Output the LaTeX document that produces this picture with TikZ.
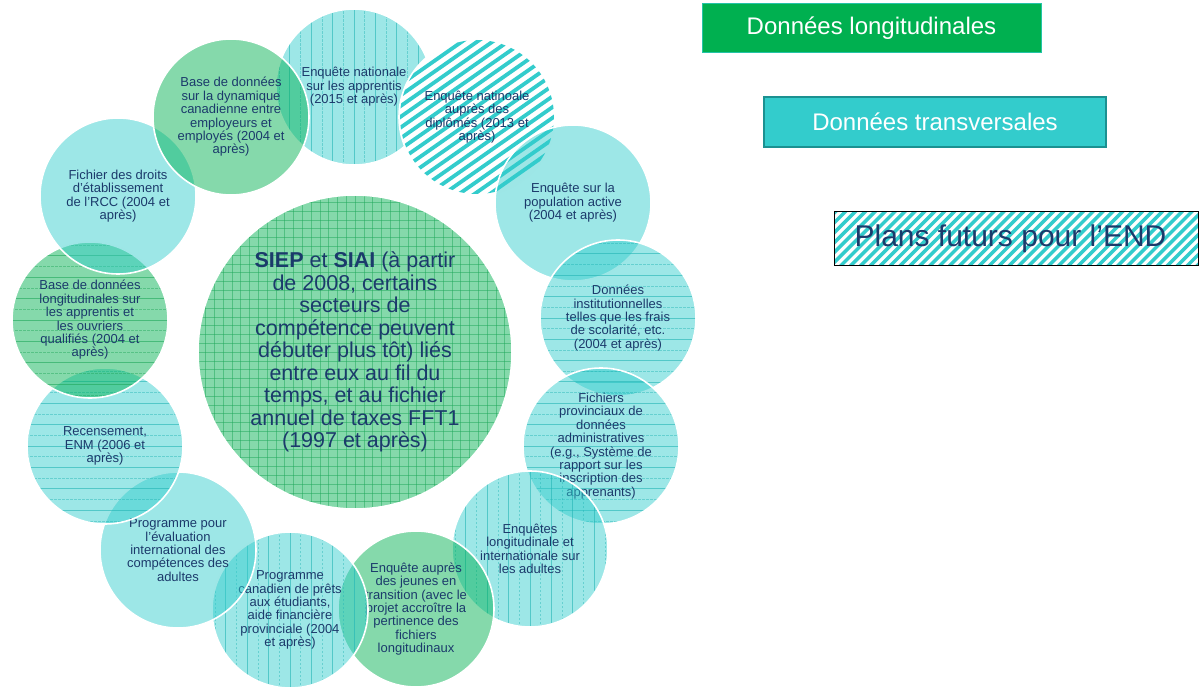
\documentclass[tikz,border=0pt]{standalone}
\usepackage{fontspec}
\setmainfont{Liberation Sans}
\definecolor{teal1}{HTML}{33CCCC}
\definecolor{tealdk}{HTML}{22B5B5}
\definecolor{grn}{HTML}{00B050}
\definecolor{grndk}{HTML}{1FA85A}
\definecolor{navy}{HTML}{1B3A6B}
% #1 node, #2 colour, #3 angle (0 = horizontal lines, 90 = vertical lines)
\newcommand\linepat[3]{%
  \begin{scope}
    \clip (#1.center) circle (77pt);
    \begin{scope}[shift={(#1.center)}, rotate=#3]
      \foreach \k in {-5,...,5}{
        \draw[#2, opacity=0.6, line width=0.7pt] (-95pt,\k*21.4pt) -- (95pt,\k*21.4pt);
        \draw[#2, opacity=0.45, line width=0.6pt, dash pattern=on 2.5pt off 1.5pt]
          (-95pt,\k*21.4pt+10.7pt) -- (95pt,\k*21.4pt+10.7pt);}
    \end{scope}
  \end{scope}}
\begin{document}
\begin{tikzpicture}[x=1pt,y=-1pt,
  circ/.style={circle, inner sep=0pt, minimum size=156pt, draw=white, line width=1.6pt,
    fill opacity=0.48},
  tc/.style={circ, fill=teal1},
  gc/.style={circ, fill=grn},
  txt/.style={inner sep=0pt, text=navy, align=center, font=\fontsize{13}{13.4}\selectfont},
  legend/.style={rectangle, inner sep=0pt, text=white, font=\fontsize{24}{26}\selectfont}
]
\useasboundingbox (0,0) rectangle (1200,687);

% central circle
\node[gc, minimum size=314pt] (center) at (355,352) {};
\begin{scope}
  \clip (center.center) circle (156pt);
  \begin{scope}[shift={(center.center)}]
    \foreach \k in {-18,...,18}{
      \draw[grndk, opacity=0.5, line width=0.6pt] (-170pt,\k*8.8pt) -- (170pt,\k*8.8pt);
      \draw[grndk, opacity=0.5, line width=0.6pt] (\k*8.8pt,-170pt) -- (\k*8.8pt,170pt);}
  \end{scope}
\end{scope}
\node[txt, font=\fontsize{21.5}{22.5}\selectfont] (centertext) at (center)
 {\textbf{SIEP} et \textbf{SIAI} (à partir\\de 2008, certains\\secteurs de\\compétence peuvent\\débuter plus tôt) liés\\entre eux au fil du\\temps, et au fichier\\annuel de taxes FFT1\\(1997 et après)};

% ring of circles (stacking order)
\node[tc] (c1) at (354,87) {};
\linepat{c1}{tealdk}{90}
\node[txt] (t1) at (c1) {Enquête nationale\\sur les apprentis\\(2015  et après)};

\node[circ, fill=white, fill opacity=1] (c2) at (477,117) {};
\begin{scope}
  \clip (c2.center) circle (77pt);
  \begin{scope}[shift={(c2.center)}, rotate=35]
    \foreach \k in {-12,...,12}{
      \draw[teal1, line width=3.8pt] (-100pt,\k*8.8pt) -- (100pt,\k*8.8pt);}
  \end{scope}
\end{scope}
\node[txt] (t2) at (c2) {Enquête natinoale\\auprès des\\diplômés (2013 et\\après)};

\node[tc] (c3) at (573,203) {};
\node[txt] (t3) at (c3) {Enquête sur la\\population active\\(2004 et après)};

\node[tc] (c4) at (618,318) {};
\linepat{c4}{tealdk}{0}
\node[txt] (t4) at (c4) {Données\\institutionnelles\\telles que les frais\\de scolarité, etc.\\(2004 et après)};

\node[tc] (c5) at (601,446) {};
\linepat{c5}{tealdk}{0}
\node[txt] (t5) at (c5) {Fichiers\\provinciaux de\\données\\administratives\\(e.g., Système de\\rapport sur les\\inscription des\\apprenants)};

\node[tc] (c6) at (530,549) {};
\linepat{c6}{tealdk}{90}
\node[txt] (t6) at (c6) {Enquêtes\\longitudinale et\\internationale sur\\les adultes};

\node[gc] (c7) at (416,609) {};
\node[txt] (t7) at (c7) {Enquête auprès\\des jeunes en\\transition (avec le\\projet accroître la\\pertinence des\\fichiers\\longitudinaux};

\node[tc] (c8) at (290,610) {};
\linepat{c8}{tealdk}{90}
\node[txt] (t8) at (c8) {Programme\\canadien de prêts\\aux étudiants,\\aide financière\\provinciale (2004\\et après)};

\node[tc] (c9) at (178,550) {};
\node[txt] (t9) at (c9) {Programme pour\\l’évaluation\\international des\\compétences des\\adultes};

\node[tc] (c10) at (105,446) {};
\linepat{c10}{tealdk}{0}
\node[txt] (t10) at (c10) {Recensement,\\ENM (2006 et\\après)};

\node[gc] (c11) at (90,320) {};
\linepat{c11}{grndk}{0}
\node[txt] (t11) at (c11) {Base de données\\longitudinales sur\\les apprentis et\\les ouvriers\\qualifiés (2004 et\\après)};

\node[tc] (c12) at (118,196) {};
\node[txt] (t12) at (c12) {Fichier des droits\\d’établissement\\de l{\char"27}RCC (2004 et\\après)};

\node[gc] (c13) at (231,117) {};
\node[txt] (t13) at (c13) {Base de données\\sur la dynamique\\canadienne entre\\employeurs et\\employés (2004 et\\après)};

% legend
\node[legend, fill=grn, draw=teal1!70!grn, line width=1pt, minimum width=339pt, minimum height=49pt] (lg1) at (871.5,28.5) {Données longitudinales};
\node[legend, fill=teal1, draw=tealdk!80!black, line width=1.2pt, minimum width=342pt, minimum height=50pt] (lg2) at (935,122) {Données transversales};
\node[legend, fill=white, minimum width=364pt, minimum height=53pt] (lg3) at (1016.5,238.5) {};
\begin{scope}
  \clip (lg3.south west) rectangle (lg3.north east);
  \begin{scope}[shift={(lg3.center)}, rotate=45]
    \foreach \k in {-40,...,40}{
      \draw[teal1, line width=3.5pt] (-300pt,\k*7pt) -- (300pt,\k*7pt);}
  \end{scope}
\end{scope}
\draw[black, line width=1.3pt] (lg3.south west) rectangle (lg3.north east);
\node[inner sep=0pt, text=navy, font=\fontsize{30}{32}\selectfont] (lg3text) at ([xshift=-6pt]lg3.center) {Plans futurs pour l’END};
\end{tikzpicture}
\end{document}
